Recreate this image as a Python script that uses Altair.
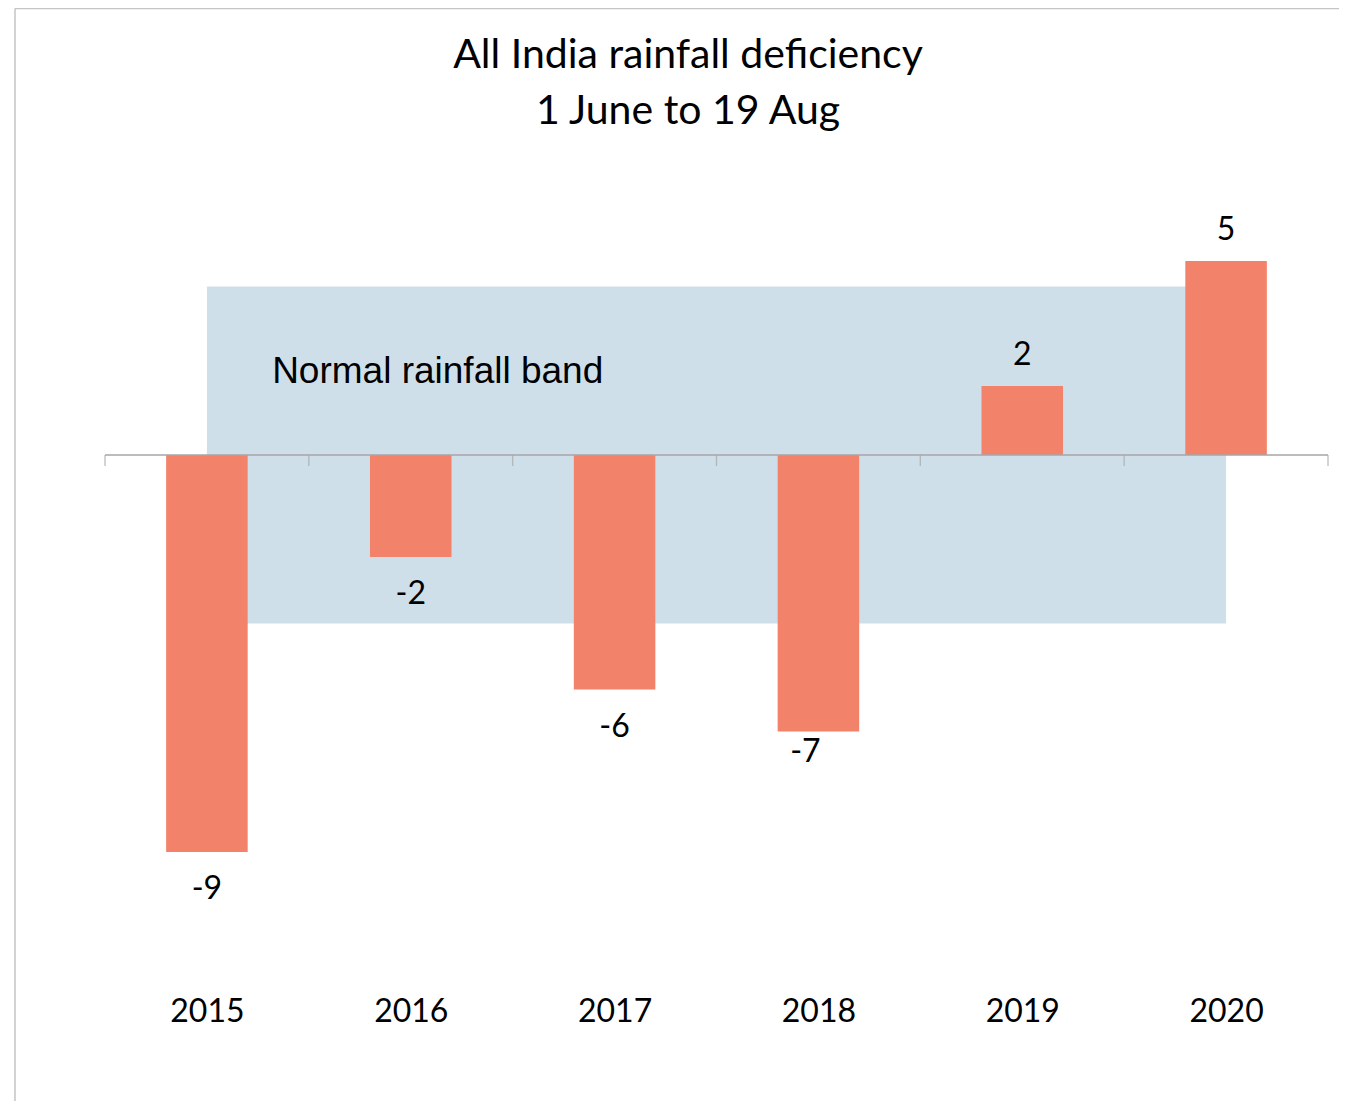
import altair as alt
import pandas as pd

# ---- data ----
years = ["2015", "2016", "2017", "2018", "2019", "2020"]
values = [-9.43, -2.42, -5.57, -6.57, 1.64, 4.61]   # bar lengths as drawn
labels = ["-9", "-2", "-6", "-7", "2", "5"]          # printed data labels
band_low = -4
band_high = 4
title_lines = ["All India rainfall deficiency", "1 June to 19 Aug"]
band_text = "Normal rainfall band"

n = len(years)
df = pd.DataFrame({"year": years, "idx": list(range(n)), "value": values, "label": labels})
bounds = pd.DataFrame({"b": [i - 0.5 for i in range(n + 1)]})
band_df = pd.DataFrame({"x0": [0], "x1": [n - 1], "lo": [band_low], "hi": [band_high]})
zero_df = pd.DataFrame({"xa": [-0.5], "xb": [n - 0.5], "z": [0]})
note_df = pd.DataFrame({"t": [band_text], "x": [0.32], "y": [1.71]})

W, H = 1223, 800
xscale = alt.Scale(domain=[-0.5, n - 0.5], nice=False, zero=False)
yscale = alt.Scale(domain=[-12.5, 6.5], nice=False, zero=False)

label_expr = "[" + ",".join("'%s'" % y for y in years) + "][datum.value]"

FONT = "Lato"
BAR = "#F2826A"
BANDC = "#CFDFEA"
AXC = "#A6A6A6"

xaxis = alt.Axis(
    values=list(range(n)),
    labelExpr=label_expr,
    title=None,
    grid=False,
    domain=False,
    ticks=False,
    tickSize=0,
    labelFont=FONT,
    labelFontSize=32,
    labelColor="black",
    labelBaseline="middle",
    labelPadding=30,
)

border_left = alt.Chart(zero_df).mark_rule(color="#C4C4C4", strokeWidth=1.5).encode(
    x=alt.value(-90), y=alt.value(-172.8), y2=alt.value(930)
)
border_top = alt.Chart(zero_df).mark_rule(color="#C4C4C4", strokeWidth=1.5).encode(
    x=alt.value(-90), x2=alt.value(W + 30), y=alt.value(-172.8)
)

band = alt.Chart(band_df).mark_rect(color=BANDC).encode(
    x=alt.X("x0:Q", scale=xscale, axis=xaxis),
    x2="x1:Q",
    y=alt.Y("lo:Q", scale=yscale, axis=None),
    y2="hi:Q",
)

bars = (
    alt.Chart(df)
    .transform_calculate(lo="datum.idx - 0.2", hi="datum.idx + 0.2", base="0")
    .mark_rect(color=BAR)
    .encode(
        x=alt.X("lo:Q", scale=xscale, axis=xaxis),
        x2="hi:Q",
        y=alt.Y("value:Q", scale=yscale, axis=None),
        y2="base:Q",
    )
)

zero_line = alt.Chart(zero_df).mark_rule(color=AXC, strokeWidth=1.4).encode(
    x=alt.X("xa:Q", scale=xscale, axis=xaxis), x2="xb:Q", y=alt.Y("z:Q", scale=yscale, axis=None)
)

ticks = (
    alt.Chart(bounds)
    .transform_calculate(z="0")
    .mark_tick(orient="vertical", size=11, thickness=1.4, yOffset=5.5, color=AXC)
    .encode(x=alt.X("b:Q", scale=xscale, axis=xaxis), y=alt.Y("z:Q", scale=yscale, axis=None))
)

note = alt.Chart(note_df).mark_text(
    font="Liberation Sans", fontSize=37, align="left", baseline="alphabetic", color="black"
).encode(
    x=alt.X("x:Q", scale=xscale, axis=xaxis),
    y=alt.Y("y:Q", scale=yscale, axis=None),
    text="t:N",
)


def value_labels(filt, dy, dx=0):
    return (
        alt.Chart(df)
        .transform_filter(filt)
        .mark_text(font=FONT, fontSize=32, color="black", baseline="middle", dy=dy, dx=dx)
        .encode(
            x=alt.X("idx:Q", scale=xscale, axis=xaxis),
            y=alt.Y("value:Q", scale=yscale, axis=None),
            text="label:N",
        )
    )


lab_pos = value_labels("datum.value >= 0", -31)
lab_neg = value_labels("datum.value < 0 && datum.year != '2018'", 37)
lab_2018 = value_labels("datum.year == '2018'", 20, -13)

chart = (
    alt.layer(band, bars, zero_line, ticks, note, lab_pos, lab_neg, lab_2018, border_left, border_top)
    .properties(
        width=W,
        height=H,
        autosize=alt.AutoSizeParams(type="none"),
        padding={"left": 97, "top": 173.3, "right": 11, "bottom": 119.7},
        title=alt.TitleParams(
            text=title_lines,
            font=FONT,
            fontSize=41,
            fontWeight="normal",
            color="black",
            anchor="middle",
            frame="group",
            baseline="bottom",
            lineHeight=56,
            offset=0,
            dx=-28.5,
            dy=166,
        ),
    )
    .configure_view(stroke=None)
)

chart.save("out.html", embed_options={"renderer": "svg", "actions": False})
